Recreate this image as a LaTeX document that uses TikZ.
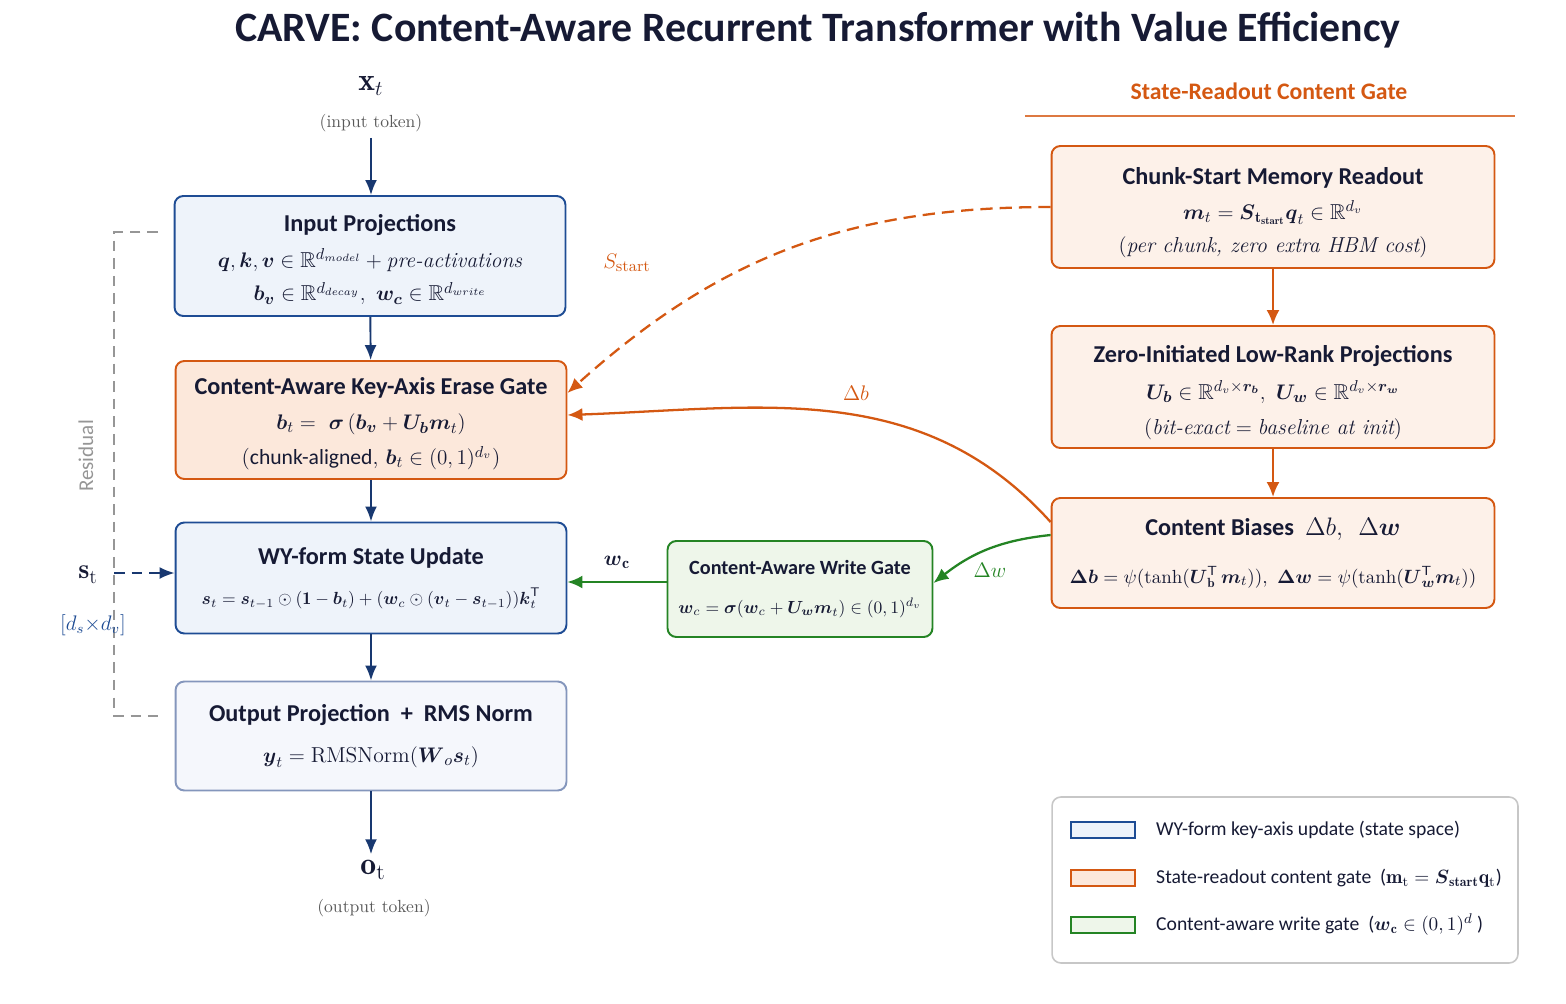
\documentclass[tikz,border=0pt]{standalone}
\usepackage{amsmath}
\usepackage{amssymb}
\usepackage{fontspec}
\newfontfamily\carlito{Carlito}
\usepackage{xcolor}
\definecolor{carvenavy}{RGB}{22,26,52}
\definecolor{carveblue}{RGB}{30,76,148}
\definecolor{carvearrow}{RGB}{24,56,112}
\definecolor{carvebluefill}{RGB}{238,243,250}
\definecolor{carvegrayblue}{RGB}{132,150,188}
\definecolor{carveoutfill}{RGB}{245,247,252}
\definecolor{carveorange}{RGB}{212,88,18}
\definecolor{carveorangefill}{RGB}{252,232,219}
\definecolor{carvepeach}{RGB}{253,241,233}
\definecolor{carvegreen}{RGB}{36,132,36}
\definecolor{carvegreenfill}{RGB}{238,246,234}
\definecolor{carvegray}{RGB}{150,150,150}
\usetikzlibrary{positioning,arrows.meta,calc}
\tikzset{
  block/.style    ={rectangle,rounded corners=5pt,draw=carveblue,line width=1.1pt,fill=carvebluefill,
                    align=center,minimum width=7.82cm,text=carvenavy},
  outblock/.style ={block,draw=carvegrayblue,fill=carveoutfill},
  gatebox/.style  ={block,draw=carveorange,fill=carveorangefill},
  readbox/.style  ={block,draw=carveorange,fill=carvepeach,minimum width=8.86cm},
  writebox/.style ={block,draw=carvegreen,fill=carvegreenfill,minimum width=5.3cm},
  swatch/.style   ={rectangle,line width=1.3pt,minimum width=1.28cm,minimum height=0.32cm},
  flow/.style     ={-{Latex[length=3mm,width=2.4mm]},line width=1.1pt,draw=carvearrow},
  oflow/.style    ={-{Latex[length=3mm,width=2.6mm]},line width=1.3pt,draw=carveorange},
  gflow/.style    ={-{Latex[length=3mm,width=2.6mm]},line width=1.3pt,draw=carvegreen},
}
\newcommand{\ttl}{\carlito\bfseries\fontsize{13.8}{16}\selectfont}
\newcommand{\bs}[1]{\boldsymbol{#1}}

\begin{document}
\begin{tikzpicture}[x=0.02cm,y=-0.02cm,font=\fontsize{12.3}{19}\selectfont]
  \useasboundingbox (0,0) rectangle (1566,1004);
  \node[text=carvenavy,font=\carlito\bfseries\fontsize{23.8}{26}\selectfont] (title) at (818,30)
    {CARVE: Content-Aware Recurrent Transformer with Value Efficiency};

  % main column
  \node[font=\fontsize{18}{20}\selectfont,text=carvenavy] (xt) at (371,86) {$\mathbf{x}_t$};
  \node[font=\fontsize{10}{12}\selectfont,text=black!65] (xtl) at (371,123) {(input token)};
  \node[block,minimum height=2.4cm] (inproj) at (370,256)
    {\rule{0pt}{14pt}{\ttl Input Projections}\\[1.5pt]
     $\bs{q},\bs{k},\bs{v}\in\mathbb{R}^{d_{model}}+\textit{pre-activations}$\\[0pt]
     $\bs{b_v}\in\mathbb{R}^{d_{decay}},\ \bs{w_c}\in\mathbb{R}^{d_{write}}$};
  \node[gatebox,minimum height=2.36cm] (erase) at (371,420)
    {\rule{0pt}{14pt}{\ttl Content-Aware Key-Axis Erase Gate}\\[1pt]
     $\bs{b}_t=\ \bs{\sigma}\,(\bs{b_v}+\bs{U_b m}_t)$\\[1pt]
     ({\carlito chunk-aligned}, $\bs{b}_t\in(0,1)^{d_v}$)};
  \node[block,minimum height=2.22cm] (wyupd) at (371,578)
    {{\ttl WY-form State Update}\\[4pt]
     {\fontsize{10.2}{12}\selectfont$\bs{s}_t=\bs{s}_{t-1}\odot(\mathbf{1}-\bs{b}_t)+(\bs{w}_c\odot(\bs{v}_t-\bs{s}_{t-1}))\bs{k}_t^{\mathsf{T}}$}};
  \node[outblock,minimum height=2.18cm] (outproj) at (371,736)
    {{\ttl Output Projection\ \ +\ \ RMS Norm}\\[4pt]
     $\bs{y}_t=\mathrm{RMSNorm}(\bs{W}_o\bs{s}_t)$};
  \node[font=\fontsize{18}{20}\selectfont,text=carvenavy] (ot) at (373,870) {$\mathbf{o}_{\mathrm{t}}$};
  \node[font=\fontsize{10}{12}\selectfont,text=black!65] (otl) at (374,908) {(output token)};

  \draw[flow] (xtl.south) -- (xtl.south |- inproj.north);
  \draw[flow] (inproj) -- (erase);
  \draw[flow] (erase) -- (wyupd);
  \draw[flow] (wyupd) -- (outproj);
  \draw[flow] (outproj.south) -- (outproj.south |- ot.north);

  % residual and state input
  \coordinate (restop) at (158,232);
  \coordinate (resbot) at (158,716);
  \draw[carvegray,dashed,line width=1.1pt,dash pattern=on 6pt off 4pt] (restop) -- (114,232) -- (114,716) -- (resbot);
  \node[rotate=90,text=carvegray,font=\carlito\fontsize{12}{14}\selectfont] (reslbl) at (86,456) {Residual};
  \node[font=\fontsize{16}{18}\selectfont,text=carvenavy] (st) at (88,575) {$\mathbf{s}_{\mathrm{t}}$};
  \coordinate (stin) at (114,573);
  \draw[flow,dashed,dash pattern=on 6pt off 4pt] (stin) -- (stin -| wyupd.west);
  \node[text=carveblue,font=\fontsize{12}{14}\selectfont] (stdim) at (93,625) {$[d_s{\times}d_v]$};

  % state-readout content gate
  \node[text=carveorange,font=\carlito\bfseries\fontsize{13.5}{16}\selectfont] (rhead) at (1269,91) {State-Readout Content Gate};
  \draw[carveorange!80,line width=0.8pt] (1025,116) -- (1515,116);
  \node[readbox,minimum height=2.44cm] (readout) at (1273,207)
    {\rule{0pt}{16pt}{\ttl Chunk-Start Memory Readout}\\[1pt]
     $\bs{m}_t=\bs{S}_{\mathbf{t}_{\mathbf{start}}}\bs{q}_t\in\mathbb{R}^{d_v}$\\[0pt]
     $(\textit{per chunk, zero extra HBM cost})$};
  \node[readbox,minimum height=2.44cm] (lowrank) at (1273,387)
    {\rule{0pt}{16pt}{\ttl Zero-Initiated Low-Rank Projections}\\[2pt]
     $\bs{U_b}\in\mathbb{R}^{d_v\times\bs{r_b}},\ \bs{U_w}\in\mathbb{R}^{d_v\times\bs{r_w}}$\\[1pt]
     $(\textit{bit-exact} = \textit{baseline at init})$};
  \node[readbox,minimum height=2.2cm] (biases) at (1273,553)
    {{\ttl Content Biases\ \ $\Delta b,\ \ \Delta\bs{w}$}\\[8pt]
     {\fontsize{10.8}{12}\selectfont$\bs{\Delta b}=\psi(\tanh(\bs{U}_{\mathbf{b}}^{\mathsf{T}}\,\bs{m}_t)),\ \bs{\Delta w}=\psi(\tanh(\bs{U}_{\bs{w}}^{\mathsf{T}}\bs{m}_t))$}};
  \node[writebox,minimum height=1.92cm] (wgate) at (800,589)
    {{\ttl\fontsize{11.5}{14}\selectfont Content-Aware Write Gate}\\[3pt]
     {\fontsize{10}{12}\selectfont$\bs{w}_c=\bs{\sigma}(\bs{w}_c+\bs{U_w m}_t)\in(0,1)^{d_v}$}};

  \draw[oflow] (readout) -- (lowrank);
  \draw[oflow] (lowrank) -- (biases);
  \draw[oflow,dashed,dash pattern=on 7pt off 4pt] (readout.west) to[out=180,in=42] ([yshift=0.54cm]erase.east);
  \node[text=carveorange,font=\fontsize{13}{15}\selectfont] (slbl) at (627,263) {$S_{\mathrm{start}}$};
  \draw[oflow] ([yshift=0.62cm]biases.west) to[out=132,in=2] ([yshift=0.1cm]erase.east);
  \node[text=carveorange,font=\fontsize{13}{15}\selectfont] (dblbl) at (856,393) {$\Delta b$};
  \draw[gflow] ([yshift=0.36cm]biases.west) to[out=186,in=38] ([yshift=0.12cm]wgate.east);
  \node[text=carvegreen,font=\fontsize{13}{15}\selectfont] (dwlbl) at (990,570) {$\Delta w$};
  \draw[gflow] ([yshift=0.14cm]wgate.west) -- ([yshift=0.14cm]wgate.west -| wyupd.east);
  \node[text=carvenavy,font=\fontsize{13}{15}\selectfont] (wclbl) at (617,562) {$\bs{w}_{\mathbf{c}}$};

  % legend
  \node[draw=black!22,line width=0.9pt,rounded corners=5pt,fill=white,minimum width=9.32cm,minimum height=3.32cm] (legend) at (1285,880) {};
  \foreach \y/\c/\f/\txt in {830/carveblue/carvebluefill/{WY-form key-axis update (state space)},
      878/carveorange/carveorangefill/{State-readout content gate\ \ ($\mathbf{m}_{\mathrm{t}}=\bs{S}_{\mathbf{start}}\mathbf{q}_{\mathrm{t}}$)},
      925/carvegreen/carvegreenfill/{Content-aware write gate\ \ ($\bs{w}_{\mathbf{c}}\in(0,1)^{d}$\ )}}{
    \node[swatch,draw=\c,fill=\f] (sw\y) at (1103,\y) {};
    \node[anchor=west,text=carvenavy,font=\carlito\fontsize{11.2}{14}\selectfont] (lt\y) at (1150,\y) {\txt};
  }
\end{tikzpicture}
\end{document}
